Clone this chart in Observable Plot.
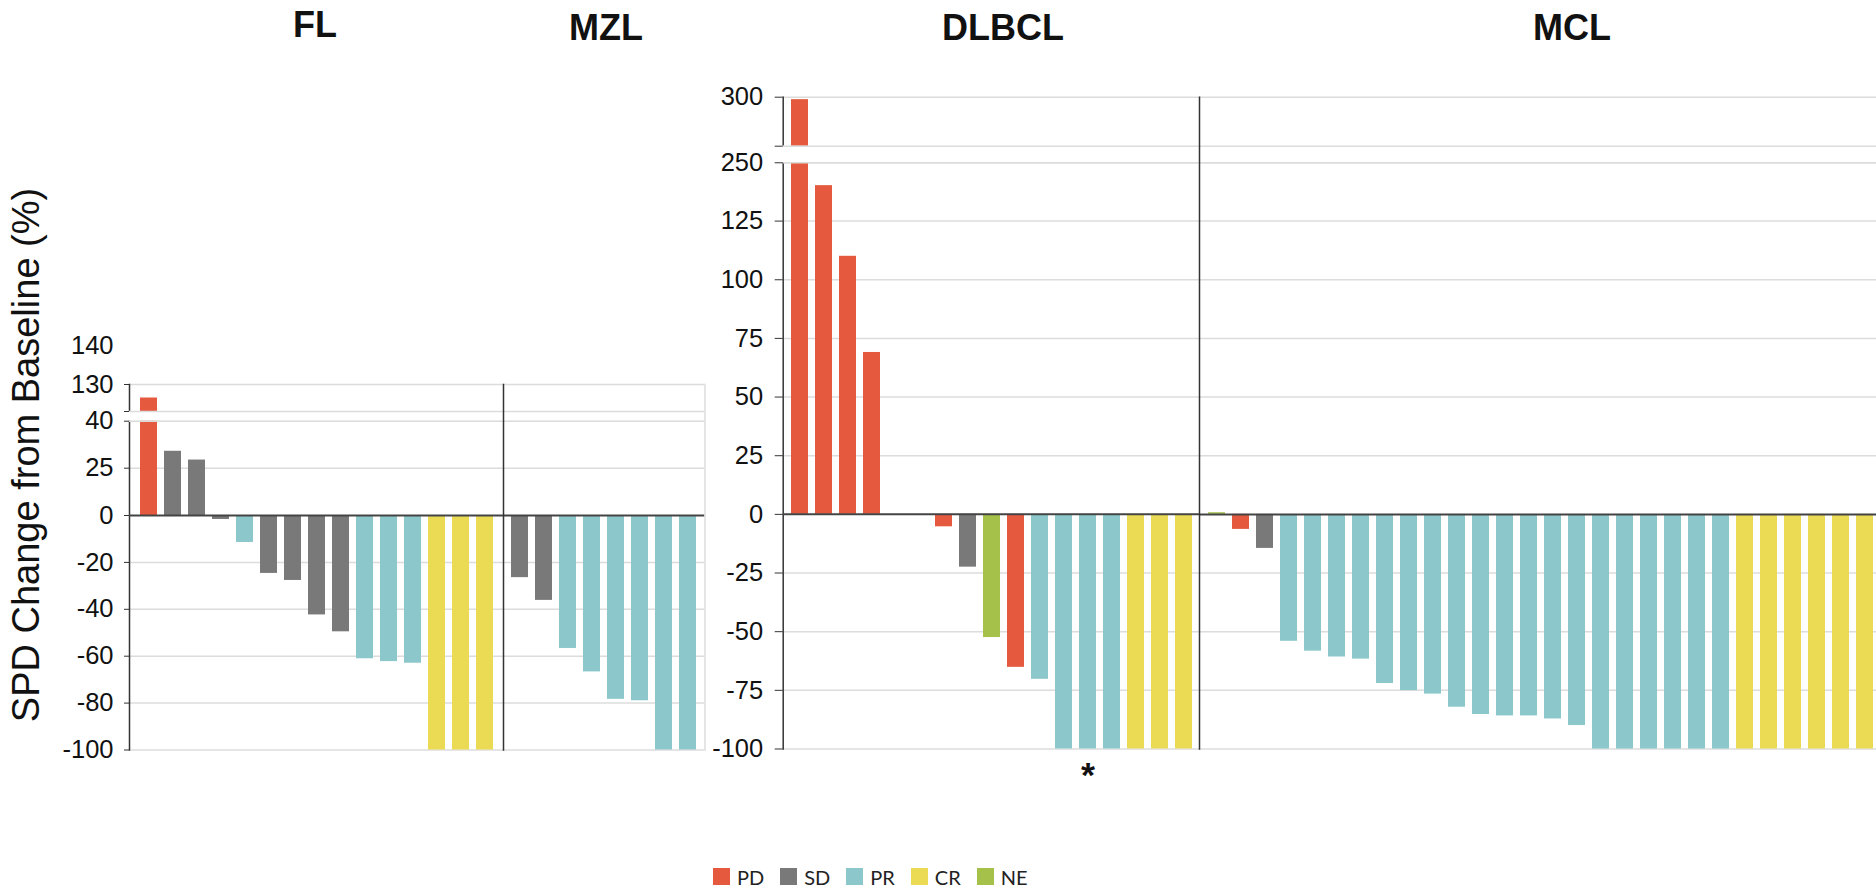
<!DOCTYPE html>
<html>
<head>
<meta charset="utf-8">
<script src="https://cdn.jsdelivr.net/npm/d3@7"></script>
<script src="https://cdn.jsdelivr.net/npm/@observablehq/plot@0.6"></script>
<style>
  html, body { margin: 0; padding: 0; background: #fff; overflow: hidden; }
  #wrap { position: relative; width: 1876px; height: 889px; overflow: hidden; background: #fff;
          font-family: "Liberation Sans", Arial, sans-serif; }
  .panel { position: absolute; top: 0; }
  .title { position: absolute; font-weight: bold; font-size: 36px; color: #111; line-height: 1;
           transform: translate(-50%, -50%); white-space: nowrap; }
  #ytitle { position: absolute; left: 26px; top: 455px; font-size: 38px; color: #111; line-height: 1;
            transform: translate(-50%, -50%) rotate(-90deg); white-space: nowrap; }
  #legend { position: absolute; left: 713px; top: 860px; }
  .lg-swatch { margin-right: 16px !important; }
  .lg-swatch > svg { margin-right: 7px !important; }
</style>
</head>
<body>
<div id="wrap"></div>
<script>
// ---------------- data ----------------
const responseTypes  = ["PD", "SD", "PR", "CR", "NE"];
const responseColors = ["#E55A3F", "#797979", "#8CC8CB", "#EBDA54", "#A5C14A"];

const groupNames = ["FL", "MZL", "DLBCL", "MCL"];
const yTitle = "SPD Change from Baseline (%)";

const flChange   = [115, 30.4, 27.6, -1.7, -11.5, -24.7, -27.7, -42.4, -49.6, -61.1, -62.3, -63.0, -100, -100, -100];
const flResponse = ["PD", "SD", "SD", "SD", "PR", "SD", "SD", "SD", "SD", "PR", "PR", "PR", "CR", "CR", "CR"];

const mzlChange   = [-26.5, -36.2, -56.7, -66.7, -78.4, -79.0, -100, -100];
const mzlResponse = ["SD", "SD", "PR", "PR", "PR", "PR", "PR", "PR"];

const dlbclChange   = [298, 201, 110, 69, 0, 0, -5.3, -22.5, -52.5, -65.2, -70.3, -100, -100, -100, -100, -100, -100];
const dlbclResponse = ["PD", "PD", "PD", "PD", "SD", "SD", "PD", "SD", "NE", "PD", "PR", "PR", "PR", "PR", "CR", "CR", "CR"];
const dlbclStarred  = [12];

const mclChange   = [0.7, -6.4, -14.5, -54.1, -58.3, -60.8, -61.7, -72.1, -75.1, -76.6, -82.2, -85.3, -85.9, -85.9,
                     -87.2, -90.0, -100, -100, -100, -100, -100, -100, -100, -100, -100, -100, -100, -100];
const mclResponse = ["NE", "PD", "SD", "PR", "PR", "PR", "PR", "PR", "PR", "PR", "PR", "PR", "PR", "PR",
                     "PR", "PR", "PR", "PR", "PR", "PR", "PR", "PR", "CR", "CR", "CR", "CR", "CR", "CR"];

const leftTicks   = [-100, -80, -60, -40, -20, 0, 25, 40, 130];
const leftExtraTickLabel = [140];
const leftBreak   = [40, 100];
const rightTicks  = [-100, -75, -50, -25, 0, 25, 50, 75, 100, 125, 250, 300];
const rightBreak  = [250, 260];

// ---------------- broken-axis transforms (value -> visual offset above the -100 line) ----------------
const leftWarp  = d3.scaleLinear().domain([-100, 0, 25, 40, 100, 130, 140]).range([0, 234.5, 281.8, 328.8, 338.5, 365.5, 404]);
const rightWarp = d3.scaleLinear().domain([-100, 125, 250, 260, 300]).range([0, 527.9, 586.2, 602.8, 651.8]);
const leftY  = {warp: leftWarp,  top: 140, bottomPx: 749.5, topPx: 345.5, frameTop: 130};
const rightY = {warp: rightWarp, top: 300, bottomPx: 748.5, topPx: 96.7,  frameTop: 300};

const FONT = '"Liberation Sans", Arial, sans-serif';
const GRID = "#dcdcdc";
const DARK = "#333";

function panel(cfg) {
  const rows = cfg.change.map((v, i) => ({slot: i, change: v, response: cfg.response[i]}));
  const Y = cfg.y;
  const span = Y.warp(Y.top) - Y.warp(-100);
  const yFrameTop = Y.bottomPx - (Y.bottomPx - Y.topPx) * (Y.warp(Y.frameTop) - Y.warp(-100)) / span;
  const gridVals = cfg.ticks.filter(t => t !== 0);
  // axis marks take tick positions in the warped (transformed) space
  const warpTicks = ts => ts.map(t => Y.warp(t));
  const label = v => String(Math.round(Y.warp.invert(v)));
  const marks = [
    Plot.ruleY(gridVals, {stroke: GRID, strokeWidth: 1.5}),
    Plot.barY(rows, {x: "slot", y: "change", fill: "response"})
  ];
  if (cfg.axis) marks.push(Plot.frame({anchor: "left", stroke: DARK, strokeWidth: 1.5}));
  marks.push(
    Plot.rectY([{lo: cfg.brk[0], hi: cfg.brk[1]}], {y1: "lo", y2: "hi", fill: "white", insetLeft: cfg.axis ? -14 : 0}),
    Plot.ruleY(cfg.brk, {stroke: GRID, strokeWidth: 1.5}),
    Plot.ruleY([0], {stroke: "#444", strokeWidth: 2})
  );
  if (!cfg.axis) marks.push(Plot.frame({anchor: "left", stroke: DARK, strokeWidth: 1.5}));
  if (cfg.rightEdge) marks.push(Plot.frame({anchor: "right", stroke: GRID, strokeWidth: 1.5}));
  if (cfg.axis) {
    marks.push(
      Plot.axisY({ticks: warpTicks(cfg.ticks), tickSize: cfg.tickSize, tickPadding: cfg.tickPadding, label: null,
                  tickFormat: label, fontSize: cfg.fontSize, stroke: DARK, fill: "#111"}),
      Plot.axisY({ticks: warpTicks([cfg.brk[1]]), tickSize: cfg.tickSize, tickPadding: 0, label: null,
                  tickFormat: () => "", stroke: DARK})
    );
    if (cfg.extraLabels) marks.push(
      Plot.axisY({ticks: warpTicks(cfg.extraLabels), tickSize: 0, tickPadding: cfg.tickSize + cfg.tickPadding,
                  label: null, tickFormat: label, fontSize: cfg.fontSize, fill: "#111"})
    );
  }
  if (cfg.stars) marks.push(
    Plot.text(cfg.stars, {x: d => d, y: d => cfg.change[d], text: () => "*", dy: 26,
                          fontSize: 36, fontWeight: "bold", fill: "#111"})
  );
  const svg = Plot.plot({
    width: cfg.width, height: 800,
    marginLeft: cfg.marginLeft, marginRight: 0, marginTop: yFrameTop, marginBottom: 800 - Y.bottomPx,
    x: {type: "band", domain: d3.range(rows.length), paddingInner: 0.3, paddingOuter: cfg.padOuter, axis: null},
    y: {type: "linear", transform: Y.warp, domain: [Y.warp(-100), Y.warp(Y.top)], range: [Y.bottomPx, Y.topPx],
        axis: null, label: null},
    color: {domain: responseTypes, range: responseColors},
    style: {fontFamily: FONT, fontSize: "24px", color: "#111", background: "transparent", overflow: "visible"},
    marks
  });
  svg.classList.add("panel");
  svg.style.left = cfg.left + "px";
  return svg;
}

const wrap = document.getElementById("wrap");

wrap.appendChild(panel({change: flChange, response: flResponse, y: leftY, ticks: leftTicks,
  brk: leftBreak, axis: true, extraLabels: leftExtraTickLabel, tickSize: 5, tickPadding: 11, fontSize: 25.5,
  left: 0, width: 503, marginLeft: 129, padOuter: 0.35}));
wrap.appendChild(panel({change: mzlChange, response: mzlResponse, y: leftY, ticks: leftTicks,
  brk: leftBreak, axis: false, rightEdge: true, left: 503, width: 201.5, marginLeft: 0, padOuter: 0.3}));
wrap.appendChild(panel({change: dlbclChange, response: dlbclResponse, y: rightY, ticks: rightTicks,
  brk: rightBreak, axis: true, tickSize: 8, tickPadding: 12, fontSize: 25.5, stars: dlbclStarred,
  left: 700, width: 499.3, marginLeft: 82.7, padOuter: 0.3}));
wrap.appendChild(panel({change: mclChange, response: mclResponse, y: rightY, ticks: rightTicks,
  brk: rightBreak, axis: false, left: 1199.3, width: 682.5, marginLeft: 0, padOuter: 0.3}));

// group titles
const titlePos = [[315, 25], [606, 28], [1003, 28], [1572, 28]];
groupNames.forEach((name, i) => {
  const d = document.createElement("div");
  d.className = "title";
  d.textContent = name;
  d.style.left = titlePos[i][0] + "px";
  d.style.top = titlePos[i][1] + "px";
  wrap.appendChild(d);
});

// y title
const yt = document.createElement("div");
yt.id = "ytitle";
yt.textContent = yTitle;
wrap.appendChild(yt);

// legend
const lg = Plot.legend({
  legend: "swatches",
  color: {domain: responseTypes, range: responseColors},
  swatchSize: 17,
  className: "lg",
  style: {fontFamily: "Lato, 'Open Sans', sans-serif", fontSize: "20px", color: "#222"}
});
lg.id = "legend";
wrap.appendChild(lg);
</script>
</body>
</html>
